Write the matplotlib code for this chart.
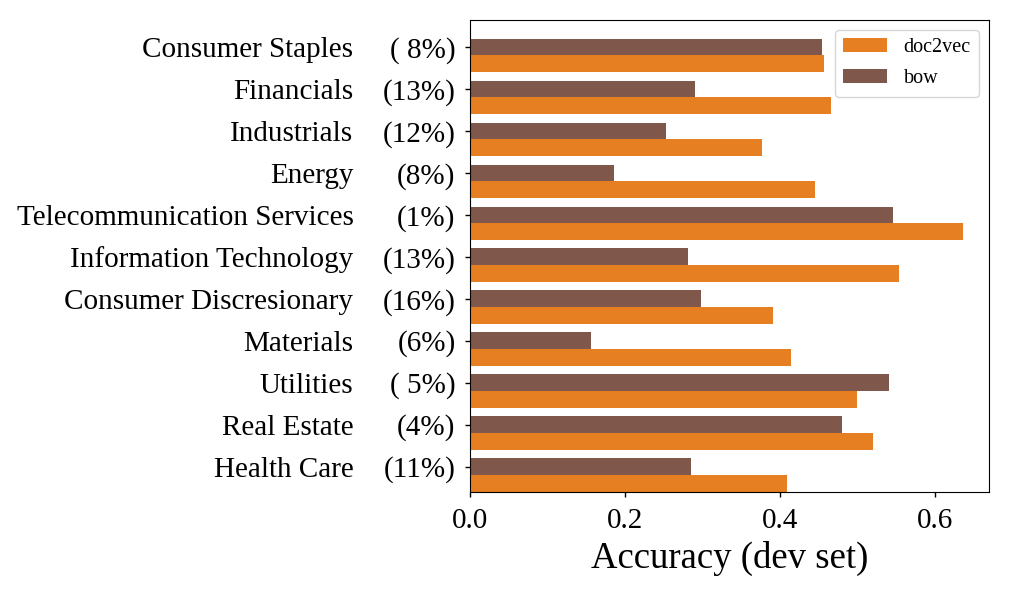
import numpy as np
import matplotlib
matplotlib.use("Agg")
import matplotlib.pyplot as plt

plt.rcParams['font.family'] = ['Liberation Serif', 'DejaVu Serif']

# Data
sectors = ["Consumer Staples", "Financials", "Industrials", "Energy",
           "Telecommunication Services", "Information Technology",
           "Consumer Discresionary", "Materials", "Utilities",
           "Real Estate", "Health Care"]
shares = ["( 8%)", "(13%)", "(12%)", "(8%)", "(1%)", "(13%)",
          "(16%)", "(6%)", "( 5%)", "(4%)", "(11%)"]
doc2vec = [0.457, 0.466, 0.377, 0.446, 0.637, 0.554, 0.391, 0.415, 0.500, 0.520, 0.409]
bow = [0.454, 0.290, 0.253, 0.186, 0.546, 0.281, 0.298, 0.156, 0.541, 0.481, 0.285]

orange = "#e67e22"
brown = "#7f574b"

fig = plt.figure(figsize=(10.11, 5.91), dpi=100)
ax = fig.add_axes([0.465, 0.1675, 0.513, 0.7985])

y = np.arange(len(sectors))
h = 0.4
ax.barh(y + h, doc2vec, height=h, color=orange, label="doc2vec")
ax.barh(y, bow, height=h, color=brown, label="bow")

ax.set_ylim(len(sectors) - 1 + 1.5 * h, -0.64)
ax.set_xlim(0, 0.67)
ax.set_yticks(y)
ax.set_yticklabels(shares, fontsize=21)
ax.set_xticks([0.0, 0.2, 0.4, 0.6])
ax.set_xticklabels(["0.0", "0.2", "0.4", "0.6"], fontsize=21)
ax.tick_params(length=3.5, width=1)
ax.tick_params(axis="y", pad=7)
ax.tick_params(axis="x", pad=8)

# sector names in a column left of the share labels
trans = matplotlib.transforms.blended_transform_factory(ax.transAxes, ax.transData)
for yi, name in zip(y, sectors):
    ax.text(-0.225, yi, name, transform=trans, ha="right", va="center_baseline",
            fontsize=21)

ax.set_xlabel("Accuracy (dev set)", fontsize=26.5, labelpad=5)

ax.legend(loc="upper right", fontsize=14.5, handlelength=2.2, labelspacing=0.6)

fig.savefig("out.png", dpi=100)
